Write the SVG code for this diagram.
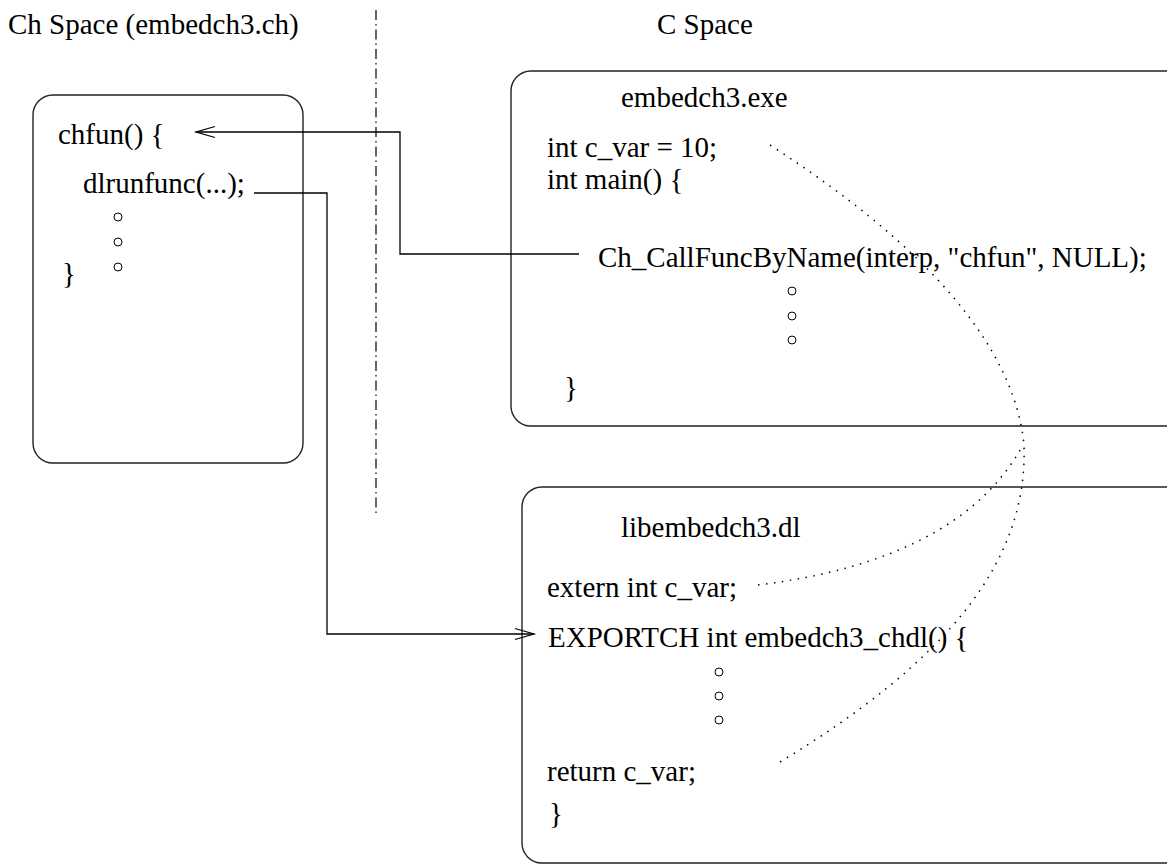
<svg xmlns="http://www.w3.org/2000/svg" width="1167" height="865" viewBox="0 0 1167 865">
<style>
.t{font-family:"Liberation Serif","Times New Roman",serif;fill:#000;font-size:29px}
.box{fill:none;stroke:#222;stroke-width:1.4}
.dot{fill:none;stroke:#000;stroke-width:1}
.conn{fill:none;stroke:#000;stroke-width:1.3}
.dotted{fill:none;stroke:#000;stroke-width:1.5;stroke-dasharray:1.5 6.5}
</style>
<rect width="1167" height="865" fill="#fff"/>
<text class="t" x="8" y="34">Ch Space (embedch3.ch)</text>
<text class="t" x="657" y="34">C Space</text>
<line x1="376" y1="10" x2="376" y2="513" stroke="#000" stroke-width="1.2" stroke-dasharray="10 4 1.5 4"/>
<g id="ch-box">
<rect class="box" x="33" y="95" width="270" height="368" rx="20"/>
<text class="t" x="58" y="144">chfun() {</text>
<text class="t" x="83" y="193">dlrunfunc(...);</text>
<circle class="dot" cx="118" cy="217" r="4"/>
<circle class="dot" cx="118" cy="242" r="4"/>
<circle class="dot" cx="118" cy="267" r="4"/>
<text class="t" x="62" y="283">}</text>
</g>
<g id="exe-box">
<rect class="box" x="511" y="71" width="680" height="355" rx="20"/>
<text class="t" x="621" y="107">embedch3.exe</text>
<text class="t" x="547" y="157">int c_var = 10;</text>
<text class="t" x="547" y="189">int main() {</text>
<text class="t" x="598" y="267">Ch_CallFuncByName(interp, "chfun", NULL);</text>
<circle class="dot" cx="792" cy="291" r="4"/>
<circle class="dot" cx="792" cy="316" r="4"/>
<circle class="dot" cx="792" cy="340" r="4"/>
<text class="t" x="564" y="397">}</text>
</g>
<g id="dl-box">
<rect class="box" x="522" y="487" width="670" height="376" rx="20"/>
<text class="t" x="621" y="537">libembedch3.dl</text>
<text class="t" x="547" y="597">extern int c_var;</text>
<text class="t" x="548" y="647">EXPORTCH int embedch3_chdl() {</text>
<circle class="dot" cx="719" cy="672" r="4"/>
<circle class="dot" cx="719" cy="696" r="4"/>
<circle class="dot" cx="719" cy="720" r="4"/>
<text class="t" x="547" y="781">return c_var;</text>
<text class="t" x="549" y="823">}</text>
</g>
<g id="connectors">
<polyline class="conn" points="579,254 400,254 400,132 196,132"/>
<polyline class="conn" points="215,126.5 196,132 215,137.5"/>
<polyline class="conn" points="254,193 327,193 327,634 534,634"/>
<polyline class="conn" points="515,628.5 534,634 515,639.5"/>
<path class="dotted" d="M770,145 Q1010,300 1024,445 C1028,560 950,660 775,765"/>
<path class="dotted" d="M758,585 Q960,560 1023,445"/>
</g>
</svg>
